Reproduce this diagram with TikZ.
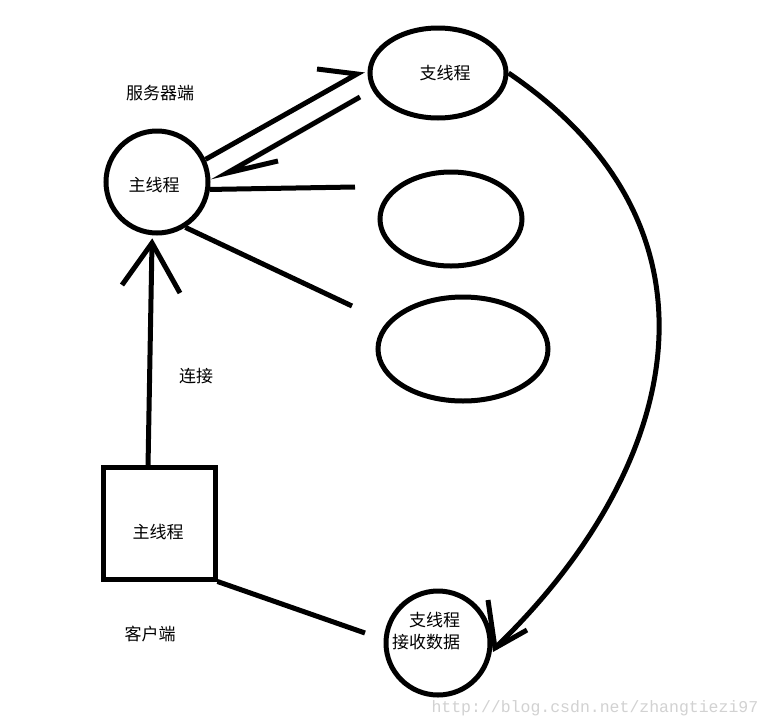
\documentclass[tikz,border=0pt]{standalone}
\usepackage{fontspec}
\newfontfamily\cjk{Noto Sans CJK SC}
\setmonofont{Liberation Mono}
\usetikzlibrary{shapes.geometric}

\begin{document}
\begin{tikzpicture}[x=1pt, y=-1pt,
      pen/.style={line width=5pt, black},
      blob/.style={pen, draw, ellipse, inner sep=0pt},
      ring/.style={pen, draw, circle, inner sep=0pt},
      lbl/.style={font=\cjk\fontsize{17}{22}\selectfont}]
    \useasboundingbox[fill=white] (0,0) rectangle (771,726);
    \node[ring, minimum size=102pt] (srv) at (157,182) {};
    \node[lbl] (srvtxt) at (154,185) {主线程};
    \node[lbl] (srvtag) at (160,93) {服务器端};
    \node[blob, minimum width=136pt, minimum height=90pt] (sub1) at (438,73) {};
    \node[lbl] (sub1txt) at (445,73) {支线程};
    \node[blob, minimum width=142pt, minimum height=94pt] (sub2) at (451,219) {};
    \node[blob, minimum width=170pt, minimum height=104pt] (sub3) at (463,349) {};
    \node[pen, draw, minimum size=112pt] (cli) at (159,523) {};
    \node[lbl] (clitxt) at (158,532) {主线程};
    \node[lbl] (clitag) at (150,634) {客户端};
    \node[lbl] (conn) at (196,376) {连接};
    \node[ring, minimum size=104pt] (recv) at (438,643) {};
    \node[lbl, align=right] (recvtxt) at (426,631) {支线程\\接收数据};
    \node[font=\ttfamily\fontsize{16.5}{18}\selectfont, text=gray!35, anchor=west] (mark) at (428,708) {http://blog.csdn.net/zhangtiezi97};
    \coordinate (upFoot) at (148,467);
    \coordinate (upTip) at (152,243);
    \coordinate (upL) at (122,285);
    \coordinate (upR) at (180,293);
    \coordinate (goTip) at (357,74);
    \coordinate (goBarb) at (317,69);
    \coordinate (backStart) at (360,97);
    \coordinate (backTip) at (227,173);
    \coordinate (backBarb) at (278,161);
    \coordinate (spoke2) at (355,187);
    \coordinate (spoke3) at (352,306);
    \coordinate (cliEnd) at (365,633);
    \coordinate (curveTip) at (495,648);
    \coordinate (curveL) at (488,600);
    \coordinate (curveR) at (527,630);
    \draw[pen] (upFoot) -- (upTip);
    \draw[pen] (upL) -- (upTip) -- (upR);
    \draw[pen] (srv.25) -- (goTip) -- (goBarb);
    \draw[pen] (backStart) -- (backTip) -- (backBarb);
    \draw[pen] (srv.-8) -- (spoke2);
    \draw[pen] (srv.-58) -- (spoke3);
    \draw[pen] (cli.south east) -- (cliEnd);
    \draw[pen] (sub1.east) .. controls (740,230) and (680,470) .. (curveTip);
    \draw[pen] (curveL) -- (curveTip) -- (curveR);
  \end{tikzpicture}
\end{document}
